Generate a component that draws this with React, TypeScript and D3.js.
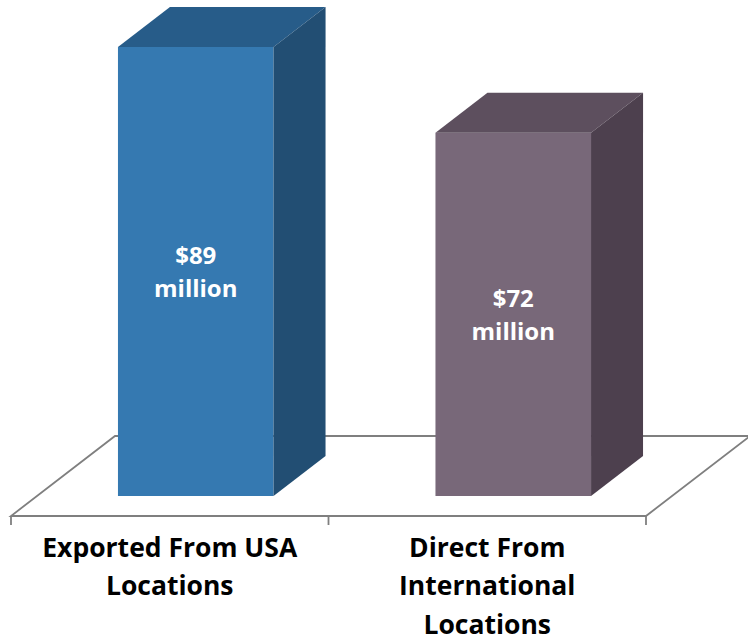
import React from "react";
import * as d3 from "d3";

const categories: string[][] = [
  ["Exported From USA", "Locations"],
  ["Direct From", "International", "Locations"],
];
const values: number[] = [89, 72];
const valueLabels: string[][] = [
  ["$89", "million"],
  ["$72", "million"],
];
const palettes = [
  { front: "#3579b1", top: "#275c89", side: "#224e73" },
  { front: "#786879", top: "#5d4f5e", side: "#4d404e" },
];

const W = 748;
const H = 639;
const FLOOR_Y = 516;
const X0 = 11;
const X1 = 646;
const DX = 104; // full depth offset
const DY = 80;
const D0 = 0.25;
const D1 = 0.75;

export default function App() {
  const keys = categories.map((_, i) => String(i));
  const x = d3
    .scaleBand<string>()
    .domain(keys)
    .range([X0, X1])
    .paddingInner(0.51)
    .paddingOuter(0.255);
  const y = d3.scaleLinear().domain([0, 100]).range([0, 504.5]);

  const proj = (px: number, py: number, depth: number): [number, number] => [
    px + depth * DX,
    py - depth * DY,
  ];
  const poly = (pts: [number, number][]) =>
    "M" + pts.map((p) => p.join(",")).join("L") + "Z";

  const floor = poly([
    proj(X0, FLOOR_Y, 0),
    proj(X1, FLOOR_Y, 0),
    proj(X1, FLOOR_Y, 1),
    proj(X0, FLOOR_Y, 1),
  ]);

  const step = x.step();
  const tickXs = [X0, X0 + step, X1];

  return (
    <svg
      width={W}
      height={H}
      style={{ position: "absolute", left: 0, top: 0, display: "block" }}
      fontFamily="'Open Sans', sans-serif"
    >
      <rect width={W} height={H} fill="#ffffff" />
      <path d={floor} fill="#ffffff" stroke="#7f7f7f" strokeWidth={1.8} />
      {tickXs.map((tx, i) => (
        <line
          key={i}
          x1={tx}
          x2={tx}
          y1={FLOOR_Y}
          y2={FLOOR_Y + 9}
          stroke="#7f7f7f"
          strokeWidth={1.8}
        />
      ))}
      {values.map((v, i) => {
        const bx = x(keys[i])!;
        const bw = x.bandwidth();
        const h = y(v);
        const c = palettes[i];
        const fbl = proj(bx, FLOOR_Y, D0);
        const fbr = proj(bx + bw, FLOOR_Y, D0);
        const ftl = proj(bx, FLOOR_Y - h, D0);
        const ftr = proj(bx + bw, FLOOR_Y - h, D0);
        const bbr = proj(bx + bw, FLOOR_Y, D1);
        const btl = proj(bx, FLOOR_Y - h, D1);
        const btr = proj(bx + bw, FLOOR_Y - h, D1);
        const cx = (fbl[0] + fbr[0]) / 2;
        const cy = (fbl[1] + ftl[1]) / 2;
        return (
          <g key={i}>
            <path d={poly([fbl, fbr, ftr, ftl])} fill={c.front} />
            <path d={poly([ftl, ftr, btr, btl])} fill={c.top} />
            <path d={poly([fbr, bbr, btr, ftr])} fill={c.side} />
            <text
              x={cx}
              y={cy - 7}
              textAnchor="middle"
              fill="#ffffff"
              fontWeight="bold"
              fontSize={24}
            >
              {valueLabels[i][0]}
            </text>
            <text
              x={cx}
              y={cy + 26}
              textAnchor="middle"
              fill="#ffffff"
              fontWeight="bold"
              fontSize={24}
            >
              {valueLabels[i][1]}
            </text>
          </g>
        );
      })}
      {categories.map((lines, i) => {
        const cx = x(keys[i])! + x.bandwidth() / 2;
        return (
          <text
            key={i}
            textAnchor="middle"
            fill="#000000"
            fontWeight="bold"
            fontSize={26.5}
          >
            {lines.map((t, j) => (
              <tspan key={j} x={cx} y={556.5 + j * 38.5}>
                {t}
              </tspan>
            ))}
          </text>
        );
      })}
    </svg>
  );
}
